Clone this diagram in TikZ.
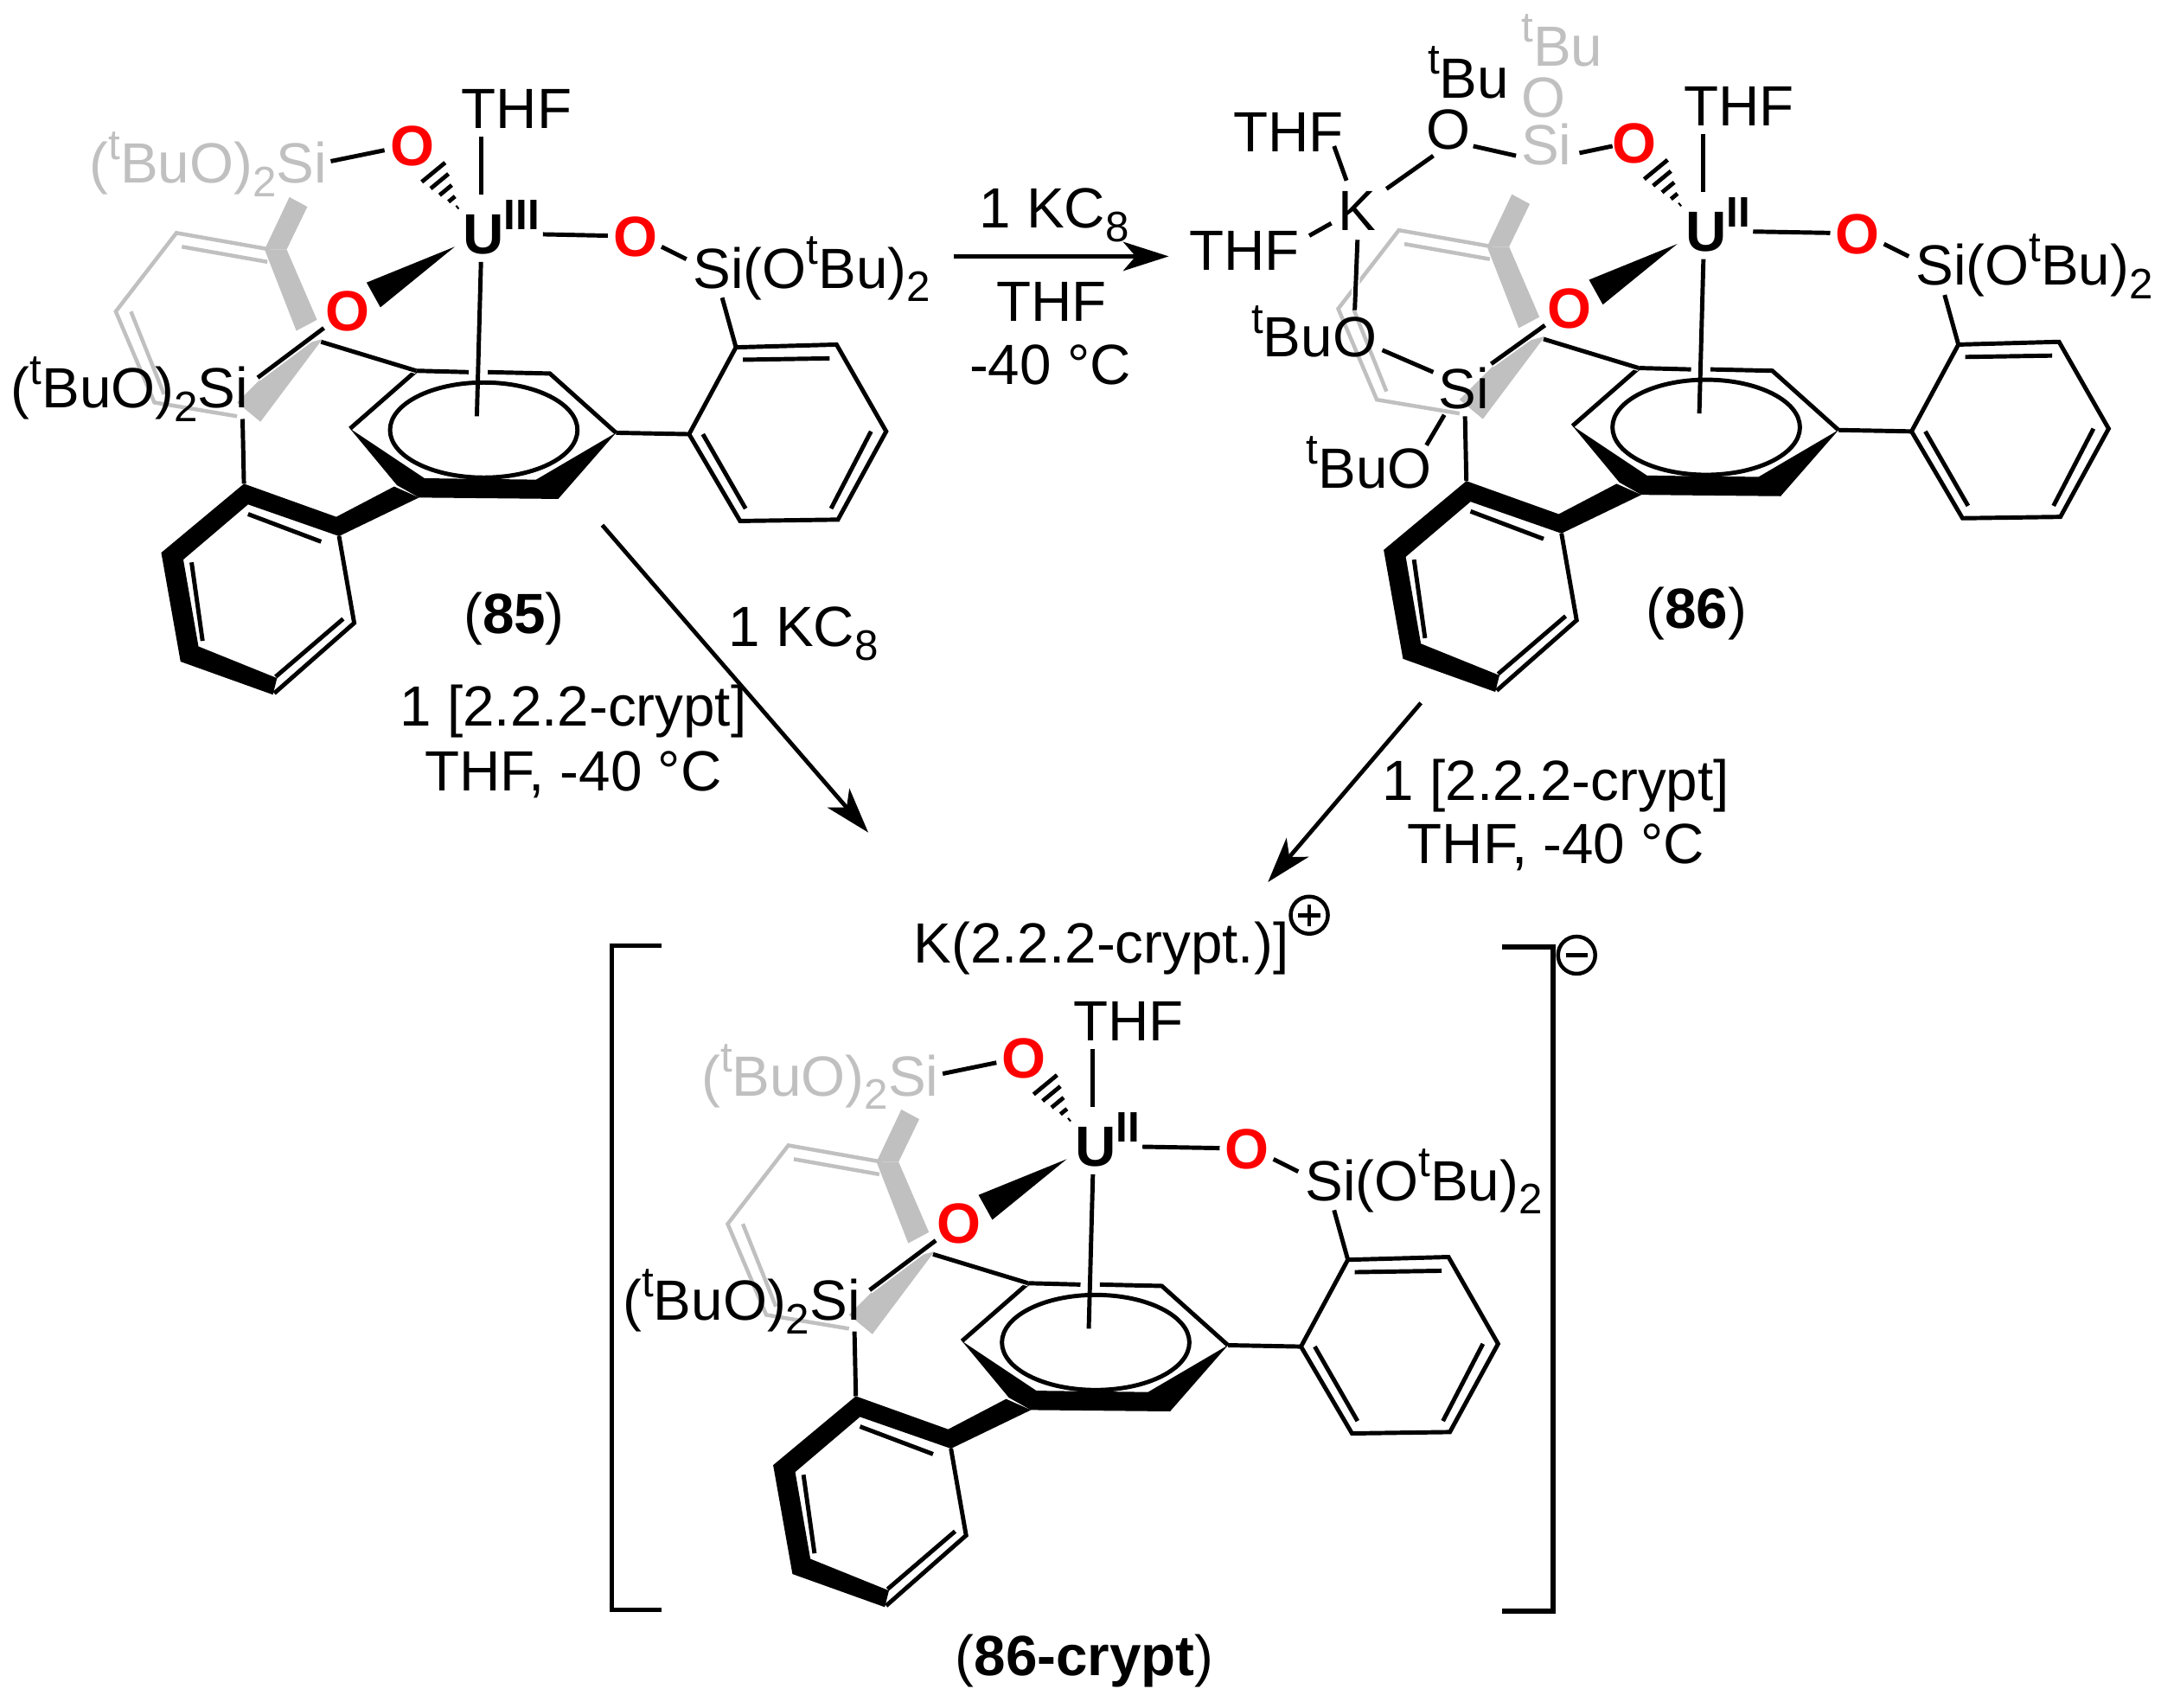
\documentclass[tikz,border=0pt]{standalone}
\usepackage{fontspec}
\setmainfont{Liberation Sans}
\usetikzlibrary{arrows.meta,calc}
\definecolor{gry}{HTML}{C0C0C0}
\definecolor{oxred}{HTML}{FF0000}
\newcommand{\supt}[1]{\raisebox{0.42em}{\fontsize{8.8}{9}\selectfont #1}}
\newcommand{\subn}[1]{\raisebox{-0.24em}{\fontsize{8.8}{9}\selectfont #1}}
\tikzset{
  bond/.style={line width=3.1*0.01cm,line join=miter,black},
  graybond/.style={line width=2.8*0.01cm,line join=miter,gry},
  boldfill/.style={fill=black,draw=none},
  grayfill/.style={fill=gry,draw=none},
  lab/.style={inner sep=0pt,outer sep=0pt,font=\fontsize{11.7}{13}\selectfont,black},
  labb/.style={lab,anchor=base west},
  glab/.style={labb,text=gry},
  ox/.style={inner sep=0pt,outer sep=0pt,font=\fontsize{11.7}{13}\selectfont\bfseries,text=oxred},
  rxn/.style={line width=3*0.01cm,-{Stealth[length=3.3mm,width=2.1mm,inset=0.9mm]}},
  halo/.style={line width=5.5*0.01cm,white},
}
% common part of each complex, in the coordinates of compound 85
\newcommand{\cplx}[3]{%
  % grey back aryl
  \coordinate (#1g1) at (196,181);
  \coordinate (#1g2) at (128,169);
  \coordinate (#1g3) at (84,226);
  \coordinate (#1g4) at (112,292);
  \coordinate (#1g5) at (172,302);
  \draw[graybond] (#1g1) -- (#1g2) -- (#1g3) -- (#1g4) -- (#1g5);
  \draw[graybond] (132,179) -- (194,190);
  \draw[graybond] (95,226) -- (119,286);
  \fill[grayfill] (210,143) -- (223,150) -- (208,181) -- (192,181) -- cycle;
  \fill[grayfill] (192,181) -- (208,181) -- (230,232) -- (215,240) -- cycle;
  \fill[grayfill] (234,246) -- (189,306) -- (172,292) -- (212,252) -- cycle;
  % metal and ligands
  \node[labb,font=\fontsize{11.7}{13}\selectfont\bfseries] (#1U) at (336,184) {U\supt{#2}};
  \node[lab] (#1thf) at (375,79) {THF};
  \node[ox] (#1Oa) at (299,106) {O};
  \node[ox] (#1Ob) at (252,226) {O};
  \node[ox] (#1Oc) at (461,172) {O};
  \node[labb] (#1Sir) at (503,209) {Si(O\supt{t}Bu)\subn{2}};
  \coordinate (#1ua) at (349,99);
  \coordinate (#1ub) at (349,141);
  \draw[bond] (#1ua) -- (#1ub);
  \coordinate (#1uc) at (#3,170);
  \coordinate (#1ud) at (441,171);
  \draw[bond] (#1uc) -- (#1ud);
  \coordinate (#1oa) at (480,179);
  \coordinate (#1ob) at (498,188);
  \draw[bond] (#1oa) -- (#1ob);
  \coordinate (#1sa) at (524,216);
  \coordinate (#1r1) at (534,252);
  \draw[bond] (#1sa) -- (#1r1);
  % hashed bond
  \coordinate (#1ht) at (333,152);
  \coordinate (#1hl) at (323,118);
  \coordinate (#1hr) at (306,132);
  \foreach \t in {0.06,0.28,0.52,0.76,1}
    \draw[line width=3*0.01cm] ($(#1ht)!\t!(#1hl)$) -- ($(#1ht)!\t!(#1hr)$);
  % solid wedge
  \fill[boldfill] (330,179) -- (266,205) -- (276,223) -- cycle;
  % right aryl
  \coordinate (#1r2) at (607,250);
  \coordinate (#1r3) at (643,313);
  \coordinate (#1r4) at (608,377);
  \coordinate (#1r5) at (537,378);
  \coordinate (#1r6) at (500,315);
  \draw[bond] (#1r1) -- (#1r2) -- (#1r3) -- (#1r4) -- (#1r5) -- (#1r6) -- cycle;
  \draw[bond] (539,261) -- (602,260);
  \draw[bond] (632,313) -- (603,369);
  \draw[bond] (541,369) -- (510,315);
  % arene ring
  \coordinate (#1c1) at (302,269);
  \coordinate (#1c2) at (340,270);
  \coordinate (#1c3) at (354,270);
  \coordinate (#1c4) at (399,271);
  \coordinate (#1c5) at (447,314);
  \coordinate (#1c6) at (254,311);
  \draw[bond] (#1c6) -- (#1c1) -- (#1c2);
  \draw[bond] (#1c3) -- (#1c4) -- (#1c5);
  \draw[bond] (#1c5) -- (#1r6);
  \fill[boldfill] (#1c6) -- (308,347) -- (389,348) -- (#1c5) -- (405,362) -- (304,361) -- (288,352) -- cycle;
  \draw[bond] (351,312) ellipse (68 and 34.5);
  % left aryl
  \coordinate (#1l1) at (177,351);
  \coordinate (#1l2) at (246,389);
  \coordinate (#1l3) at (257,452);
  \coordinate (#1l4) at (199,503);
  \fill[boldfill] (#1l1) -- (244,375) -- (286,353) -- (304,361) -- (#1l2) -- (180,366) -- (133,406) -- (144,469) -- (201,492) -- (198,504) -- (131,480) -- (117,401) -- cycle;
  \draw[bond] (#1l2) -- (#1l3) -- (#1l4);
  \draw[bond] (249,449) -- (200,491);
  \draw[bond] (180,373) -- (233,393);
  \draw[bond] (139,408) -- (147,465);
  % U to arene centroid
  \coordinate (#1ue) at (349,190);
  \coordinate (#1uf) at (346,302);
  \draw[bond] (#1ue) -- (#1uf);
  % phenoxide oxygen to arene
  \coordinate (#1ob1) at (233,248);
  \draw[halo,line width=4.5*0.01cm] (#1ob1) -- (#1c1);
  \draw[bond] (#1ob1) -- (#1c1);
  % silicon to aryl
  \coordinate (#1sb) at (176,304);
  \draw[bond] (#1sb) -- (#1l1);
}
% labels of the silyl groups written in one line
\newcommand{\silyl}[1]{%
  \node[glab] (#1Sig) at (65,133) {(\supt{t}BuO)\subn{2}Si};
  \coordinate (#1sg1) at (240,117);
  \coordinate (#1sg2) at (279,109);
  \draw[bond] (#1sg1) -- (#1sg2);
  \coordinate (#1sk1) at (187,274);
  \coordinate (#1sk2) at (235,238);
  \draw[halo] (#1sk1) -- (#1sk2);
  \draw[bond] (#1sk1) -- (#1sk2);
  \node[labb] (#1Sik) at (8,296) {(\supt{t}BuO)\subn{2}Si};
}
\begin{document}
\begin{tikzpicture}[x=0.01cm,y=-0.01cm]
\path[use as bounding box,fill=white] (0,0) rectangle (1568,1239);

% ---- compound 85
\cplx{a}{III}{394}
\silyl{a}
\node[lab] (n85) at (373,449) {(\textbf{85})};

% ---- compound 86
\begin{scope}[shift={(887,-2)}]
\cplx{b}{II}{385}
\end{scope}
\node[lab] (n86) at (1231,445) {(\textbf{86})};
\coordinate (kc1) at (985,174);
\coordinate (kc2) at (983,225);
\draw[halo] (kc1) -- (kc2);
\draw[bond] (kc1) -- (kc2);
\node[glab] (bgtbu) at (1104,48) {\supt{t}Bu};
\node[lab,text=gry] (bgo) at (1120,71) {O};
\node[lab,text=gry] (bgsi) at (1122,105) {Si};
\node[labb] (bktbu) at (1036,71) {\supt{t}Bu};
\node[lab] (bko) at (1051,94) {O};
\node[lab] (bthfa) at (935,96) {THF};
\node[lab] (bthfb) at (903,182) {THF};
\node[lab] (bk) at (985,153) {K};
\node[labb] (bbuo) at (908,259) {\supt{t}BuO};
\node[labb] (bbuob) at (948,354) {\supt{t}BuO};
\node[lab] (bsi) at (1062,282) {Si};
\coordinate (k1) at (968,106); \coordinate (k2) at (977,131);
\draw[bond] (k1) -- (k2);
\coordinate (k3) at (1006,137); \coordinate (k4) at (1040,113);
\draw[bond] (k3) -- (k4);
\coordinate (k5) at (1069,106); \coordinate (k6) at (1100,113);
\draw[bond] (k5) -- (k6);
\coordinate (k7) at (1146,111); \coordinate (k8) at (1170,106);
\draw[bond] (k7) -- (k8);
\coordinate (k9) at (950,171); \coordinate (k10) at (966,162);
\draw[bond] (k9) -- (k10);
\coordinate (k11) at (1003,254); \coordinate (k12) at (1040,270);
\draw[bond] (k11) -- (k12);
\coordinate (k13) at (1048,301); \coordinate (k14) at (1035,323);
\draw[bond] (k13) -- (k14);
\coordinate (k15) at (1121,236); \coordinate (k16) at (1082,264);
\draw[halo] (k15) -- (k16);
\draw[bond] (k15) -- (k16);

% ---- compound 86-crypt
\begin{scope}[shift={(444,662)}]
\cplx{c}{II}{385}
\silyl{c}
\end{scope}
\node[lab] (kcrypt) at (799,688) {K(2.2.2-crypt.)]};
\node[draw,circle,line width=2.8*0.01cm,minimum size=0.27cm,inner sep=0pt] (plus) at (950,664) {};
\draw[line width=3*0.01cm] ($(plus.center)+(-8,0)$) -- ($(plus.center)+(8,0)$);
\draw[line width=3*0.01cm] ($(plus.center)+(0,-8)$) -- ($(plus.center)+(0,8)$);
\node[draw,circle,line width=2.8*0.01cm,minimum size=0.27cm,inner sep=0pt] (minus) at (1144,693) {};
\draw[line width=3*0.01cm] ($(minus.center)+(-8,0)$) -- ($(minus.center)+(8,0)$);
\coordinate (bl1) at (480,686); \coordinate (bl2) at (444,686);
\coordinate (bl3) at (444,1168); \coordinate (bl4) at (480,1168);
\draw[bond,line width=3.4*0.01cm] (bl1) -- (bl2) -- (bl3) -- (bl4);
\coordinate (br1) at (1090,687); \coordinate (br2) at (1127,687);
\coordinate (br3) at (1127,1169); \coordinate (br4) at (1090,1169);
\draw[bond,line width=3.4*0.01cm] (br1) -- (br2) -- (br3) -- (br4);
\node[lab] (ncrypt) at (787,1205) {(\textbf{86-crypt})};

% ---- reactions
\coordinate (ra1) at (692,186); \coordinate (ra2) at (848,186);
\draw[rxn] (ra1) -- (ra2);
\node[lab] (ta1) at (765,156) {1 KC\subn{8}};
\node[lab] (ta2) at (763,219) {THF};
\node[lab] (ta3) at (762,265) {-40 °C};
\coordinate (rb1) at (437,381); \coordinate (rb2) at (630,604);
\draw[rxn] (rb1) -- (rb2);
\node[lab] (tb1) at (583,460) {1 KC\subn{8}};
\node[lab] (tb2) at (416,516) {1 [2.2.2-crypt]};
\node[lab] (tb3) at (416,562) {THF, -40 °C};
\coordinate (rc1) at (1031,510); \coordinate (rc2) at (920,640);
\draw[rxn] (rc1) -- (rc2);
\node[lab] (tc1) at (1129,570) {1 [2.2.2-crypt]};
\node[lab] (tc2) at (1129,615) {THF, -40 °C};
\end{tikzpicture}
\end{document}
